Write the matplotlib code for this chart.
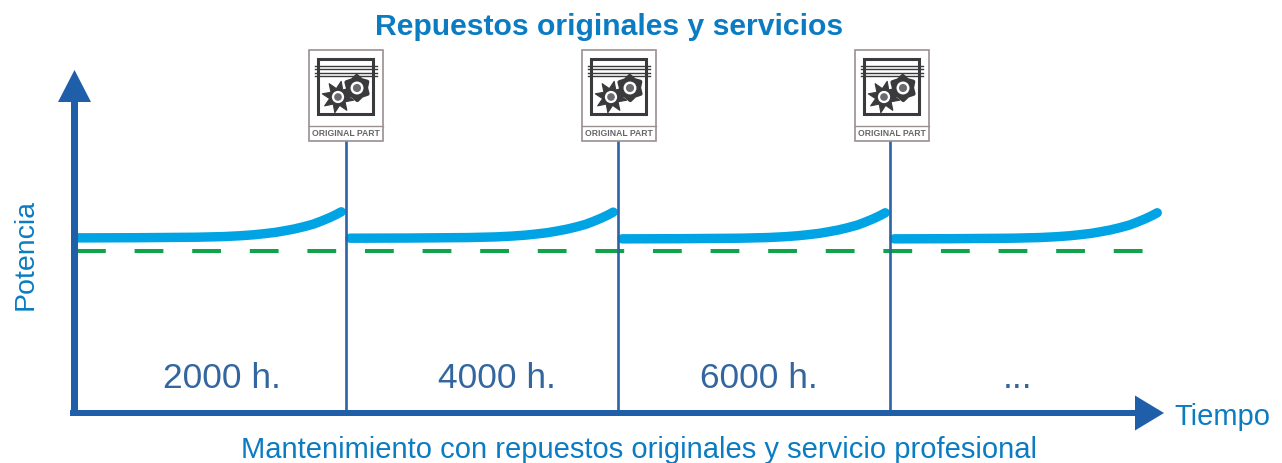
import numpy as np
import matplotlib
matplotlib.use("Agg")
import matplotlib.pyplot as plt
from matplotlib.patches import Circle, Polygon, Rectangle, FancyArrow

plt.rcParams['font.family'] = ['Liberation Sans', 'DejaVu Sans']

# hours since last service, and power in % of the guaranteed level
curve_hours = [30, 450, 900, 1100, 1220, 1320, 1400, 1480, 1550, 1620, 1690, 1760, 1820, 1880, 1930, 1965]
curve_power = [108.1, 108.2, 108.5, 108.9, 109.4, 110.0, 110.7, 111.5, 112.5, 113.6, 115.0, 116.6,
               118.5, 120.6, 122.6, 124.2]
service_hours = [2000, 4000, 6000]
segment_starts = [0, 2000, 4000, 6000]
segment_shift = [0, -0.2, -0.6, -0.6]
baseline_hours = [20, 7860]
baseline_power = [100, 100]
period_labels = ["2000 h.", "4000 h.", "6000 h.", "..."]

TITLE = "Repuestos originales y servicios"
SUBTITLE = "Mantenimiento con repuestos originales y servicio profesional"

W, H = 1282, 463
fig = plt.figure(figsize=(W / 100, H / 100), dpi=100)

# data axes: 2000 h = 272 px, 100 % = 162 px
ax = fig.add_axes([0, 0, 1, 1])
ax.set_xlim(-74 / 0.136, (W - 74) / 0.136)
ax.set_ylim((413 - H) / 1.62, 413 / 1.62)
ax.axis("off")

# pixel axes for the decoration
deco = fig.add_axes([0, 0, 1, 1])
deco.set_xlim(0, W)
deco.set_ylim(H, 0)
deco.axis("off")
deco.patch.set_alpha(0)

CURVE = "#00a4e4"
GREEN = "#12a24b"
AXIS = "#1f5ea8"
LINE = "#2e63a6"
TEXT = "#0b7cc2"
LABEL = "#33669f"
ICON = "#3a3a3c"
FRAME = "#9a9090"


def draw_gear(x, y, r_out, r_in, teeth, phase, round_lw):
    ang = np.linspace(0, 2 * np.pi, teeth * 2, endpoint=False) + phase
    rad = np.where(np.arange(teeth * 2) % 2 == 0, r_out, r_in)
    pts = np.column_stack([x + rad * np.cos(ang), y + rad * np.sin(ang)])
    deco.add_patch(Polygon(pts, closed=True, fc=ICON, ec=ICON, lw=round_lw, joinstyle="round"))
    deco.add_patch(Circle((x, y), r_in * 0.72, fc="white", ec="none"))
    deco.add_patch(Circle((x, y), r_in * 0.45, fc="#6a6b70", ec="none"))


def draw_icon(cx):
    left = cx - 37
    deco.add_patch(Rectangle((left, 50), 74, 91, fc="white", ec=FRAME, lw=1.2, zorder=1))
    deco.plot([left, left + 74], [126, 126], color=FRAME, lw=1.0)
    deco.add_patch(Rectangle((left + 9, 59), 55, 55, fc="white", ec=ICON, lw=2.2))
    for yy in [65.5, 69, 72.5, 76]:
        deco.plot([left + 6, left + 68], [yy, yy], color=ICON, lw=1.0)
    draw_gear(left + 29, 97, 16, 8.5, 8, 0.2, 0.8)
    draw_gear(left + 48, 88, 12, 9, 6, 0.5, 3)
    deco.text(cx, 134, "ORIGINAL PART", ha="center", va="center", fontsize=6.2,
              fontweight="bold", color="#66666a")


# curves
for start, shift in zip(segment_starts, segment_shift):
    xs = [start + h for h in curve_hours]
    ys = [p + shift for p in curve_power]
    ax.plot(xs, ys, color=CURVE, lw=6.8, solid_capstyle="round", solid_joinstyle="round")

# green reference line
ax.plot(baseline_hours, baseline_power, color=GREEN, lw=2.9, dashes=(7.15, 7.15),
        dash_capstyle="butt")

# service lines
for h in service_hours:
    ax.plot([h, h], [0, 168], color=LINE, lw=1.9)

# arrows
deco.add_patch(FancyArrow(74.5, 416, 0, -346, width=7, head_width=33, head_length=32,
                          length_includes_head=True, color=AXIS, lw=0))
deco.add_patch(FancyArrow(70, 413, 1094, 0, width=6, head_width=35, head_length=29,
                          length_includes_head=True, color=AXIS, lw=0))

for cx in [346, 619, 892]:
    draw_icon(cx)

deco.text(609, 27, TITLE, ha="center", va="center", fontsize=21.7, fontweight="bold", color=TEXT)
deco.text(639, 450, SUBTITLE, ha="center", va="center", fontsize=21, color=TEXT)
deco.text(1174, 417, "Tiempo", ha="left", va="center", fontsize=21, color=TEXT)
deco.text(25.5, 254, "Potencia", ha="center", va="center", rotation=90, fontsize=20.5, color=TEXT)
for lab, cx in zip(period_labels, [222, 497, 759, 1018]):
    deco.text(cx, 378, lab, ha="center", va="center", fontsize=25.5, color=LABEL)

fig.savefig("out.png", dpi=100)
